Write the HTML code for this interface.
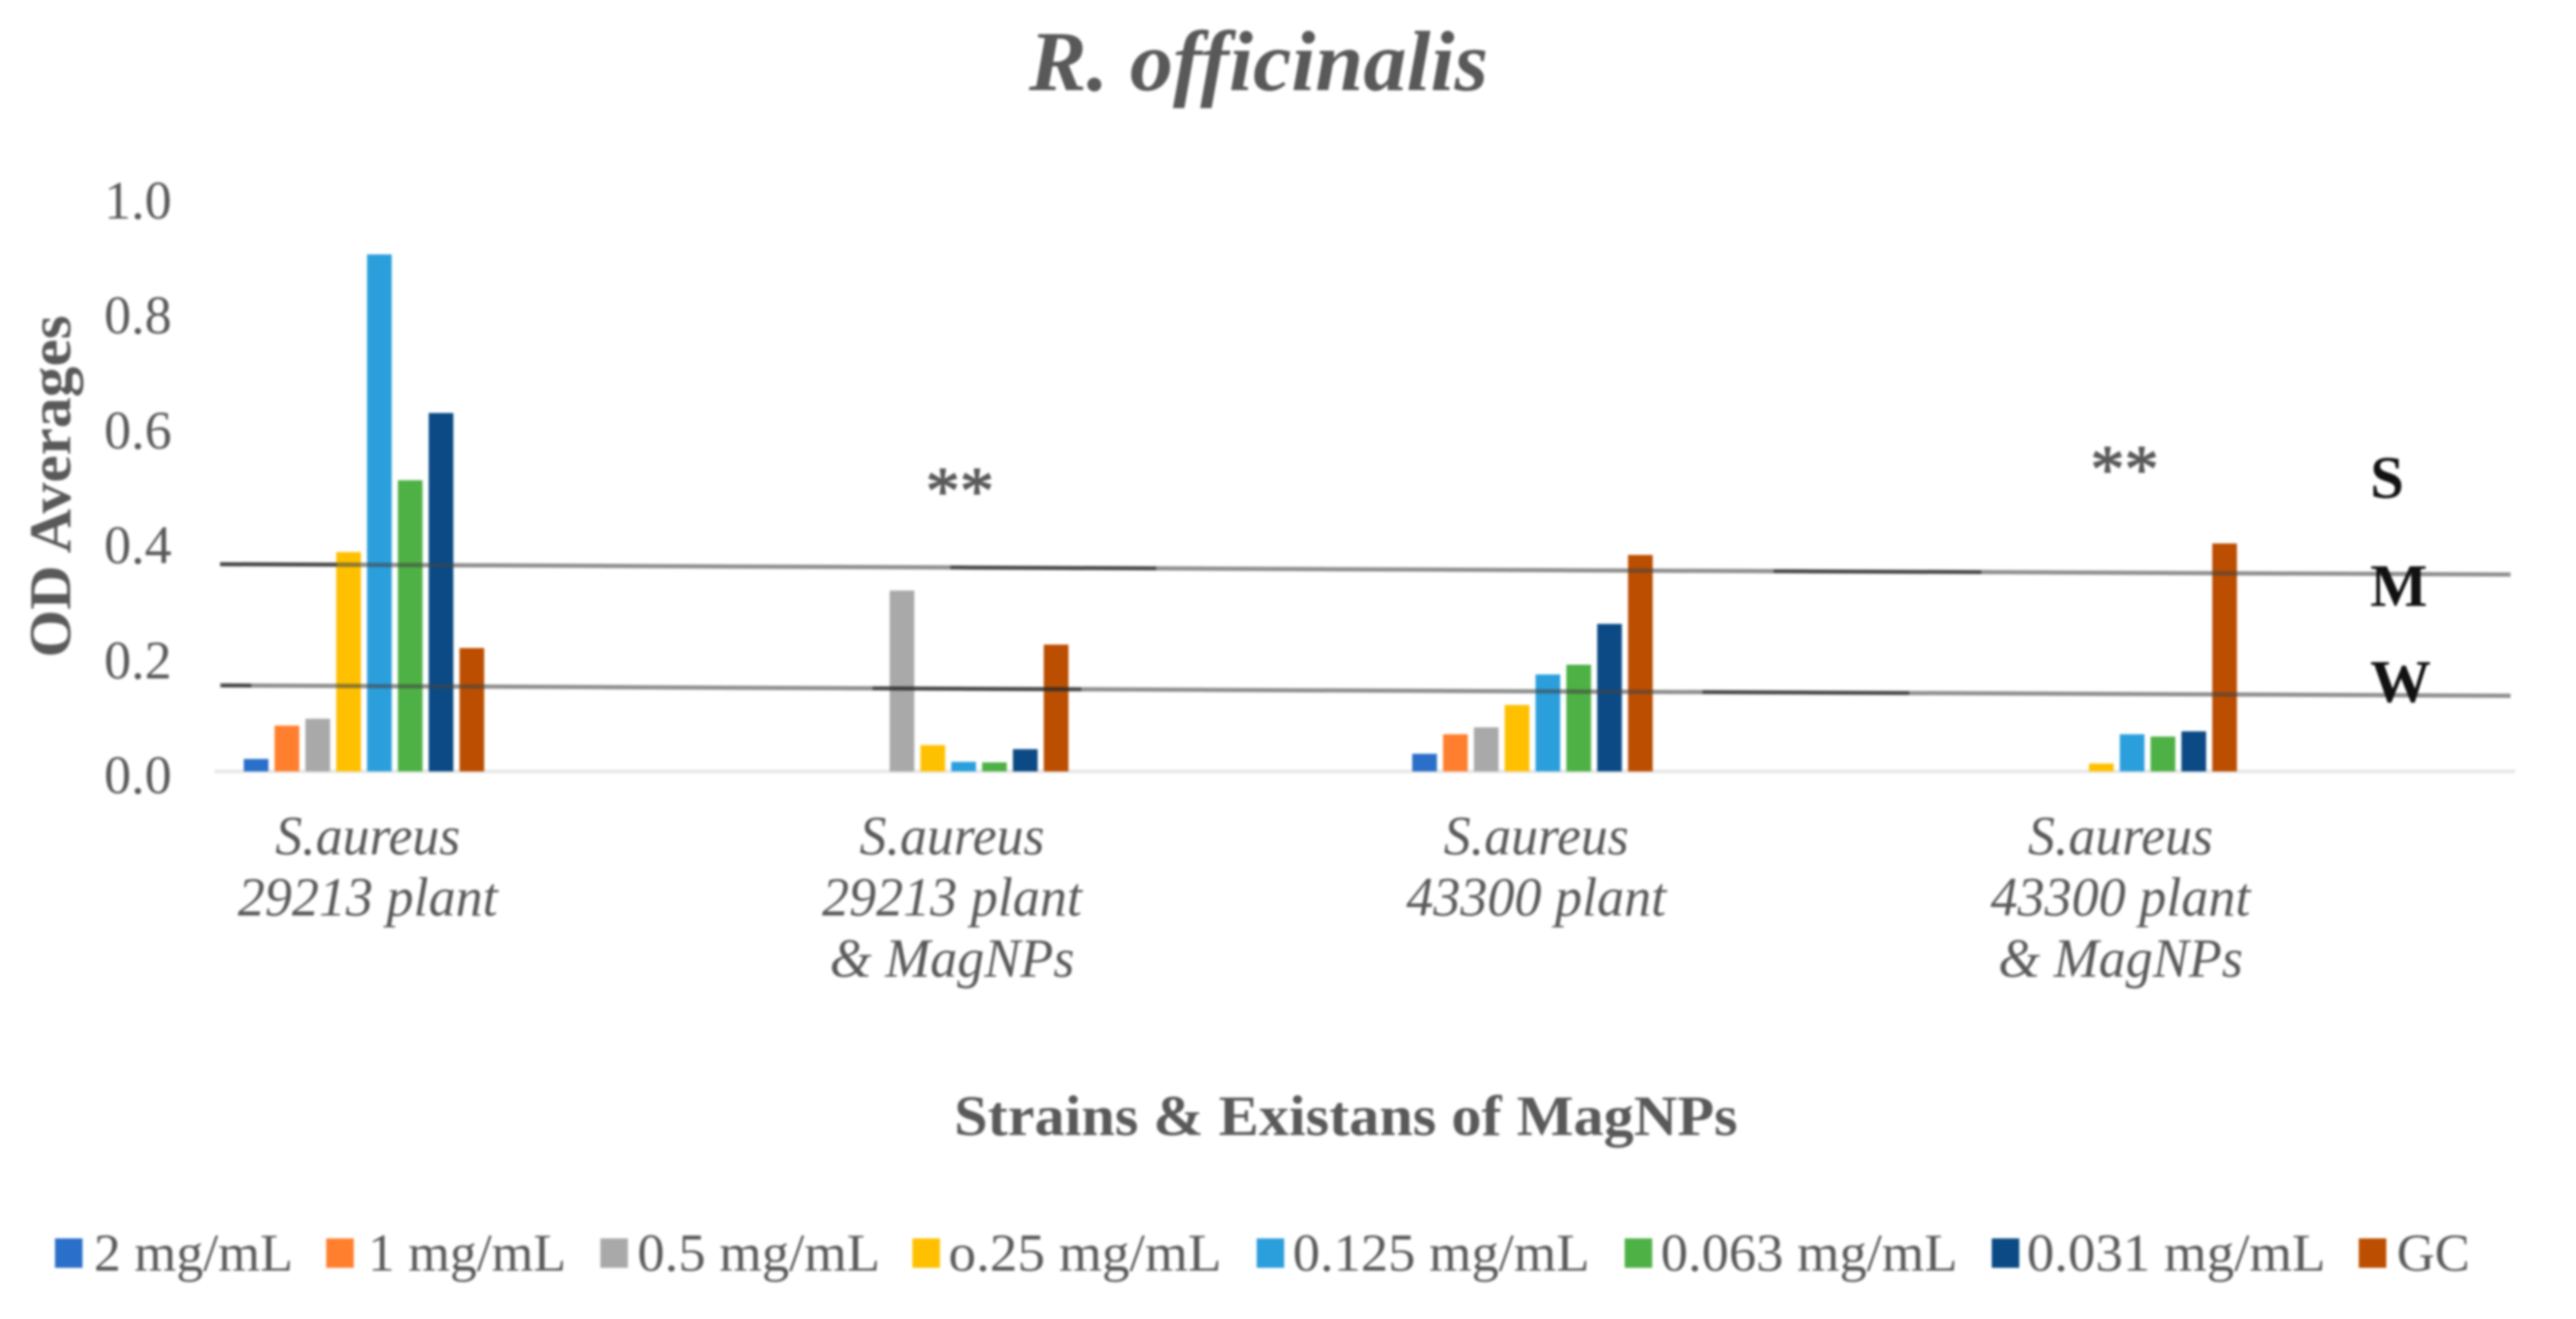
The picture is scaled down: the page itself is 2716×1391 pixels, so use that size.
<!DOCTYPE html>
<html lang="en">
<head>
<meta charset="utf-8">
<title>R. officinalis OD Averages</title>
<style>
html,body{margin:0;padding:0;background:#fff;width:2716px;height:1391px;overflow:hidden}
svg{position:absolute;left:0;top:0;filter:blur(1.3px)}
text{font-family:"Liberation Serif",serif;fill:#595959}
</style>
</head>
<body>
<svg id="chart" xmlns="http://www.w3.org/2000/svg" width="2716" height="1391" viewBox="0 0 2716 1391">
<rect width="2716" height="1391" fill="#fff"/>
<text x="1327" y="95" text-anchor="middle" font-size="90" font-weight="bold" font-style="italic" textLength="484" lengthAdjust="spacingAndGlyphs">R. officinalis</text>
<text transform="translate(74,513) rotate(-90)" text-anchor="middle" font-size="62" font-weight="bold" textLength="361" lengthAdjust="spacingAndGlyphs">OD Averages</text>
<text x="1419" y="1197" text-anchor="middle" font-size="60" font-weight="bold" textLength="826" lengthAdjust="spacingAndGlyphs">Strains &amp; Existans of MagNPs</text>
<g id="grid"></g>
<g id="bars"></g>
<g id="lines"></g>
<g id="ticks"></g>
<g id="cats"></g>
<g id="legend"></g>
<text x="1012" y="542" text-anchor="middle" font-size="72" stroke="#595959" stroke-width="1.2">**</text>
<text x="2240" y="519" text-anchor="middle" font-size="72" stroke="#595959" stroke-width="1.2">**</text>
<text x="2499" y="525" font-size="64" font-weight="bold" style="fill:#111">S</text>
<text x="2499" y="639" font-size="64" font-weight="bold" style="fill:#111">M</text>
<text x="2499" y="740" font-size="64" font-weight="bold" style="fill:#111">W</text>
</svg>
<script>
const categories = [
  ["S.aureus", "29213 plant"],
  ["S.aureus", "29213 plant", "& MagNPs"],
  ["S.aureus", "43300 plant"],
  ["S.aureus", "43300 plant", "& MagNPs"]
];
const seriesNames = ["2 mg/mL", "1 mg/mL", "0.5 mg/mL", "o.25 mg/mL", "0.125 mg/mL", "0.063 mg/mL", "0.031 mg/mL", "GC"];
const seriesColors = ["#2A6FC9", "#FF7F2E", "#A9A9A9", "#FFC000", "#2B9FDC", "#4EB145", "#0B4A85", "#BB4E00"];
const values2mg = [0.02, 0, 0.029, 0];
const values1mg = [0.078, 0, 0.063, 0];
const values05mg = [0.09, 0.313, 0.075, 0];
const values025mg = [0.38, 0.044, 0.114, 0.012];
const values0125mg = [0.898, 0.015, 0.167, 0.063];
const values0063mg = [0.505, 0.014, 0.184, 0.059];
const values0031mg = [0.622, 0.037, 0.255, 0.068];
const valuesGC = [0.213, 0.219, 0.375, 0.395];
const yTicks = ["0.0", "0.2", "0.4", "0.6", "0.8", "1.0"];
const thresholdUpper = [0.359, 0.341];
const thresholdLower = [0.148, 0.130];

const allSeries = [values2mg, values1mg, values05mg, values025mg, values0125mg, values0063mg, values0031mg, valuesGC];
const NS = "http://www.w3.org/2000/svg";
const baseY = 812.5, yUnit = 606;
const xStart = 270, groupStep = 616, barStep = 32.5, barW = 26;
const plotLeft = 232, plotRight = 2647;
function yScale(v) { return baseY - v * yUnit; }
function xScale(g, s) { return xStart + groupStep * g + barStep * s; }
function mk(tag, attrs, parent) {
  const el = document.createElementNS(NS, tag);
  for (const k in attrs) el.setAttribute(k, attrs[k]);
  parent.appendChild(el);
  return el;
}

const gridG = document.getElementById("grid");
const axisLine = mk("rect", {x: 226, y: baseY - 1, width: 2426, height: 4, fill: "#E8E8E8"}, gridG);



const barsG = document.getElementById("bars");
allSeries.forEach(function (vals, s) {
  vals.forEach(function (v, g) {
    if (!v) return;
    const bar = mk("rect", {x: xScale(g, s) - barW / 2, y: yScale(v), width: barW, height: baseY - yScale(v) + 1, fill: seriesColors[s]}, barsG);
    
    
  });
});

const linesG = document.getElementById("lines");
function drawThreshold(vals, name, darkRanges) {
  const y0 = yScale(vals[0]), y1 = yScale(vals[1]);
  const yAt = function (x) { return y0 + (y1 - y0) * (x - plotLeft) / (plotRight - plotLeft); };
  const base = mk("line", {x1: plotLeft, y1: y0, x2: plotRight, y2: y1, stroke: "#444", "stroke-opacity": 0.6, "stroke-width": 4.5}, linesG);
  
  
  darkRanges.forEach(function (r) {
    const seg = mk("line", {x1: r[0], y1: yAt(r[0]), x2: r[1], y2: yAt(r[1]), stroke: "#222", "stroke-opacity": 0.65, "stroke-width": 4}, linesG);
    
    
  });
}
drawThreshold(thresholdUpper, "upper-threshold-line", [[232, 355], [1002, 1219], [1870, 2089]]);
drawThreshold(thresholdLower, "lower-threshold-line", [[233, 265], [920, 1140], [1795, 2013]]);

const ticksG = document.getElementById("ticks");
yTicks.forEach(function (t) {
  const tick = mk("text", {x: 181, y: yScale(parseFloat(t)) + 24, "text-anchor": "end", "font-size": 57}, ticksG);
  
  
  tick.textContent = t;
});

const catsG = document.getElementById("cats");
const lineWidths = {"S.aureus": 195, "29213 plant": 274, "43300 plant": 274, "& MagNPs": 258};
categories.forEach(function (lines, g) {
  const cx = xScale(g, 3.5);
  lines.forEach(function (line, i) {
    const label = mk("text", {x: cx + 4, y: 901 + i * 64.5, "text-anchor": "middle", "font-size": 58, "font-style": "italic", textLength: lineWidths[line], lengthAdjust: "spacingAndGlyphs"}, catsG);
    
    
    label.textContent = line;
  });
});

const legendG = document.getElementById("legend");
const legendSwatchX = [58, 344, 633, 962, 1325, 1713, 2100, 2487];
const legendTextX = [99, 388, 672, 1000, 1363, 1751, 2137, 2527];
const legendTextW = [210, 209, 256, 288, 313, 313, 315, 77];
seriesNames.forEach(function (n, s) {
  const swatch = mk("rect", {x: legendSwatchX[s], y: 1306, width: 29, height: 31, fill: seriesColors[s]}, legendG);
  
  
  const entry = mk("text", {x: legendTextX[s], y: 1340, "font-size": 56, textLength: legendTextW[s], lengthAdjust: "spacingAndGlyphs"}, legendG);
  
  
  entry.textContent = n;
});
</script>
</body>
</html>
